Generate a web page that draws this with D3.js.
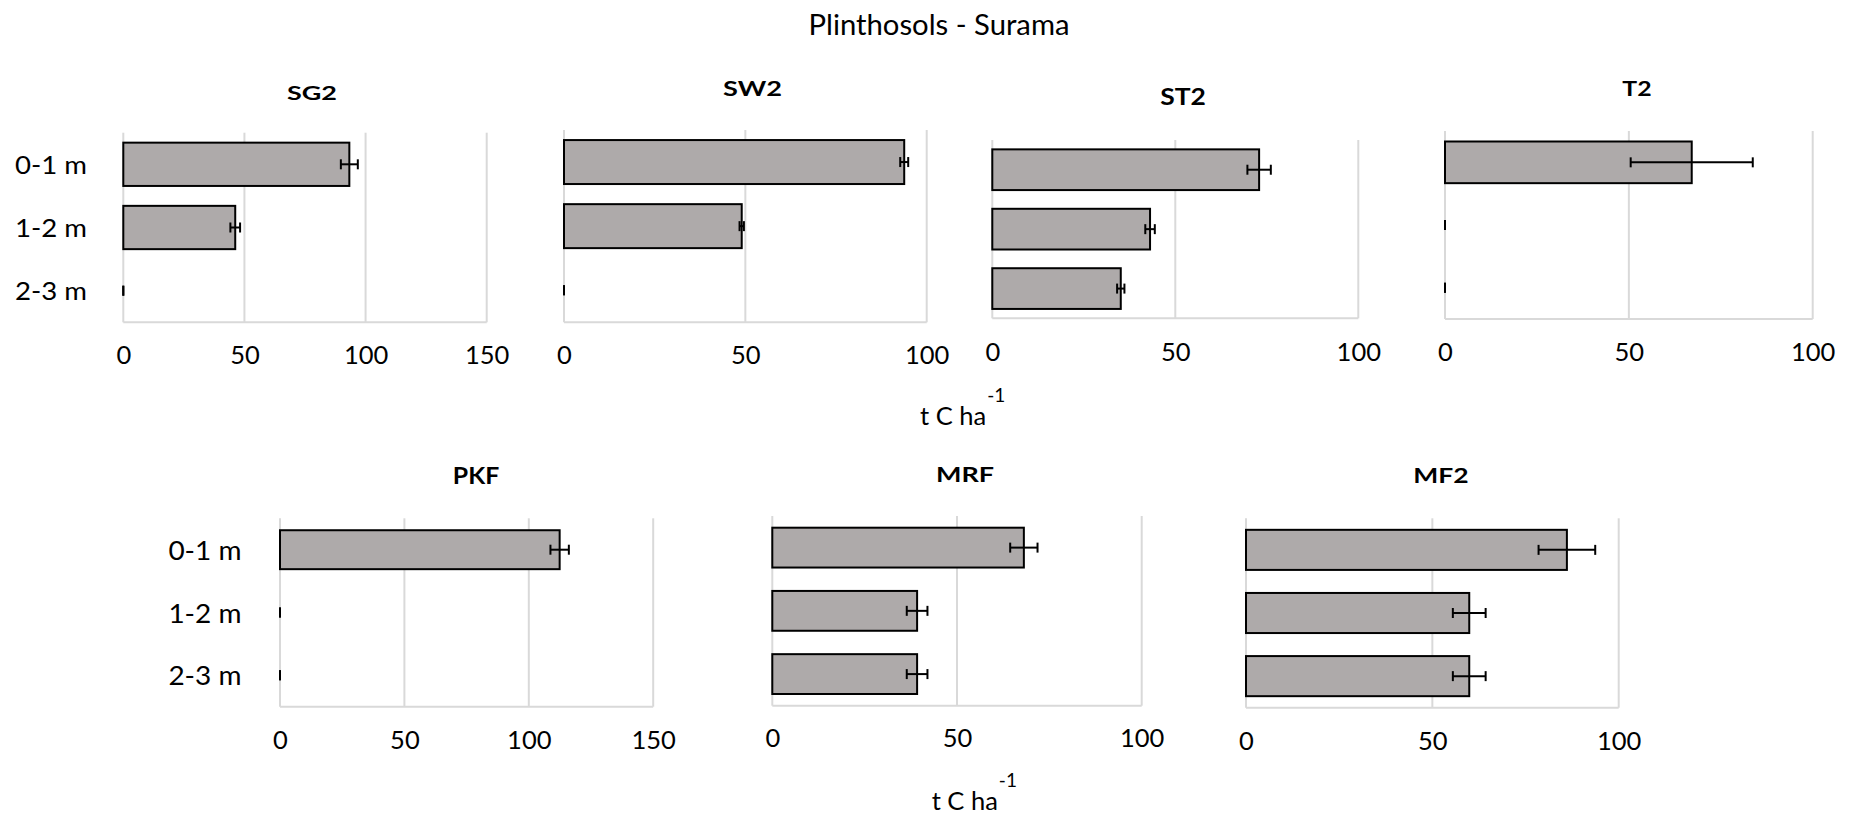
<!DOCTYPE html>
<html>
<head>
<meta charset="utf-8">
<script src="https://cdn.jsdelivr.net/npm/d3@7"></script>
<style>
  html, body { margin: 0; padding: 0; background: #fff; }
  svg { display: block; font-family: Lato, "Open Sans", sans-serif; }
  .grid line { stroke: #d9d9d9; stroke-width: 2; }
  .bar { fill: #aeaaaa; stroke: #000; stroke-width: 2; }
  .err { stroke: #000; stroke-width: 2; fill: none; }
</style>
</head>
<body>
<svg id="chart" width="1854" height="819"></svg>
<script>
// data (t C ha-1)
const depths = ["0-1 m", "1-2 m", "2-3 m"];
const panelNames = ["SG2", "SW2", "ST2", "T2", "PKF", "MRF", "MF2"];
const stockValues = [
  [93.3, 46.2, 0],
  [93.8, 49.0, 0],
  [72.9, 43.1, 35.1],
  [67.1, 0, 0],
  [112.4, 0, 0],
  [68.1, 39.2, 39.2],
  [86.1, 59.9, 59.9]
];
const stockErrors = [
  [3.5, 2.0, 0],
  [1.1, 0.6, 0],
  [3.2, 1.3, 1.0],
  [16.6, 0, 0],
  [3.7, 0, 0],
  [3.7, 2.8, 2.8],
  [7.6, 4.4, 4.4]
];
const axisMax = [150, 100, 100, 100, 150, 100, 100];
const tickStep = 50;

// where each small chart sits on the page (the pasted charts are a bit stretched sideways,
// so titles and labels get an explicit width)
const layout = [
  { x0: 123.3, x1: 486.7, top: 132.7, bottom: 322.3, pad: 0.315, tickY: 364, titleX: 312, titleY: 100, titleSize: 18.5, titleW: 50, labels: true, labelX: 87, labelSize: 25.5, labelW: 72 },
  { x0: 564, x1: 926.7, top: 130, bottom: 322.3, pad: 0.314, tickY: 364, titleX: 752.5, titleY: 96, titleSize: 21.3, titleW: 59 },
  { x0: 992.3, x1: 1358.3, top: 140, bottom: 318.3, pad: 0.315, tickY: 361, titleX: 1183, titleY: 105.3, titleSize: 22.2, titleW: 45.7 },
  { x0: 1445, x1: 1812.7, top: 131, bottom: 319, pad: 0.335, tickY: 361, titleX: 1637, titleY: 96, titleSize: 21.3, titleW: 29.3 },
  { x0: 280, x1: 653.2, top: 518.3, bottom: 706.7, pad: 0.38, tickY: 749.3, titleX: 476, titleY: 484.3, titleSize: 22.2, titleW: 46.4, labels: true, labelX: 241.4, labelSize: 26.5, labelW: 73 },
  { x0: 772.3, x1: 1141.7, top: 516, bottom: 705.7, pad: 0.37, tickY: 746.7, titleX: 965, titleY: 481.7, titleSize: 21.8, titleW: 58 },
  { x0: 1246, x1: 1618.7, top: 518.3, bottom: 707.7, pad: 0.365, tickY: 750, titleX: 1441, titleY: 483.3, titleSize: 20.8, titleW: 55.3 }
];

const svg = d3.select("#chart");

svg.append("text")
  .attr("x", 939)
  .attr("y", 35)
  .attr("text-anchor", "middle")
  .attr("font-size", 28)
  .attr("textLength", 261)
  .attr("lengthAdjust", "spacingAndGlyphs")
  .text("Plinthosols - Surama");

function drawPanel(i) {
  const L = layout[i];
  const g = svg.append("g").attr("class", "panel");

  const x = d3.scaleLinear().domain([0, axisMax[i]]).range([L.x0, L.x1]);
  const y = d3.scaleBand()
    .domain(depths)
    .range([L.top, L.bottom])
    .paddingInner(L.pad)
    .paddingOuter(L.pad / 2);

  const ticks = d3.range(0, axisMax[i] + 1, tickStep);

  // vertical gridlines + base line
  const grid = g.append("g").attr("class", "grid");
  grid.selectAll("line.v")
    .data(ticks)
    .join("line")
    .attr("class", "v")
    .attr("x1", (d) => x(d))
    .attr("x2", (d) => x(d))
    .attr("y1", L.top)
    .attr("y2", L.bottom);
  grid.append("line")
    .attr("x1", x(0))
    .attr("x2", x(axisMax[i]))
    .attr("y1", L.bottom)
    .attr("y2", L.bottom);

  // tick labels, drawn through d3.axisBottom then stripped of its lines
  const axis = g.append("g")
    .attr("transform", `translate(0,${L.tickY})`)
    .call(d3.axisBottom(x).tickValues(ticks).tickSize(0).tickPadding(0));
  axis.select(".domain").remove();
  axis.selectAll("text")
    .attr("dy", 0)
    .attr("font-size", 25.5)
    .attr("font-family", "Lato, 'Open Sans', sans-serif")
    .attr("fill", "#000");

  const rows = depths.map((d, j) => ({ depth: d, value: stockValues[i][j], err: stockErrors[i][j] }));

  g.selectAll("rect.bar")
    .data(rows.filter((r) => r.value > 0))
    .join("rect")
    .attr("class", "bar")
    .attr("x", x(0))
    .attr("y", (r) => y(r.depth))
    .attr("width", (r) => x(r.value) - x(0))
    .attr("height", y.bandwidth());

  const capH = 10;
  const eb = g.selectAll("g.err")
    .data(rows)
    .join("g")
    .attr("class", "err");
  eb.append("line")
    .attr("x1", (r) => x(r.value - r.err))
    .attr("x2", (r) => x(r.value + r.err))
    .attr("y1", (r) => y(r.depth) + y.bandwidth() / 2)
    .attr("y2", (r) => y(r.depth) + y.bandwidth() / 2);
  eb.selectAll("line.cap")
    .data((r) => [r.value - r.err, r.value + r.err].map((v) => ({ v, cy: y(r.depth) + y.bandwidth() / 2 })))
    .join("line")
    .attr("class", "cap")
    .attr("x1", (c) => x(c.v))
    .attr("x2", (c) => x(c.v))
    .attr("y1", (c) => c.cy - capH / 2)
    .attr("y2", (c) => c.cy + capH / 2);

  g.append("text")
    .attr("x", L.titleX)
    .attr("y", L.titleY)
    .attr("text-anchor", "middle")
    .attr("font-weight", "bold")
    .attr("font-size", L.titleSize)
    .attr("textLength", L.titleW)
    .attr("lengthAdjust", "spacingAndGlyphs")
    .text(panelNames[i]);

  if (L.labels) {
    g.selectAll("text.cat")
      .data(depths)
      .join("text")
      .attr("class", "cat")
      .attr("x", L.labelX)
      .attr("y", (d) => y(d) + y.bandwidth() / 2 + L.labelSize * 0.38)
      .attr("text-anchor", "end")
      .attr("font-size", L.labelSize)
      .attr("textLength", L.labelW)
      .attr("lengthAdjust", "spacingAndGlyphs")
      .text((d) => d);
  }
}

panelNames.forEach((_, i) => drawPanel(i));

function unitLabel(xStart, baseline) {
  const t = svg.append("text")
    .attr("x", xStart)
    .attr("y", baseline)
    .attr("font-size", 25.5);
  t.append("tspan").text("t C ha");
  t.append("tspan")
    .attr("font-size", 19)
    .attr("dy", -23)
    .attr("dx", 1)
    .text("-1");
}

unitLabel(920, 425);
unitLabel(931.7, 810);
</script>
</body>
</html>
